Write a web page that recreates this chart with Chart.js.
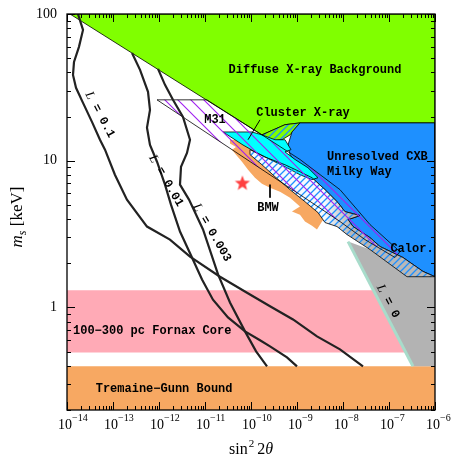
<!DOCTYPE html>
<html>
<head>
<meta charset="utf-8">
<script src="https://cdn.jsdelivr.net/npm/chart.js@4.4.1/dist/chart.umd.min.js"></script>
<style>
html, body { margin: 0; padding: 0; background: #fff; }
#chart { display: block; }
</style>
</head>
<body>
<canvas id="chart" width="452" height="456"></canvas>
<script>
// axis ranges
var xMin = 1e-14, xMax = 1e-6;
var yMin = 0.2, yMax = 100;
var xTickExps = [-14, -13, -12, -11, -10, -9, -8, -7, -6];
var yTickVals = [1, 10, 100];

// Diffuse X-ray background (green)
var dxbS = [1.16e-14, 1.73e-10, 5.48e-10, 1.16e-9, 1e-6, 1e-6];
var dxbM = [100, 15.0, 17.6, 18.1, 18.1, 100];

// cluster X-ray, hatched green piece
var clusterGreenS = [1.73e-10, 5.48e-10, 1.16e-9, 9.5e-10, 7.05e-10, 4.72e-10, 2.59e-10];
var clusterGreenM = [15.0, 17.6, 18.1, 16.8, 15.0, 13.9, 13.5];

// cluster X-ray, cyan piece
var clusterS = [2.46e-11, 1.05e-10, 1.73e-10, 3.32e-10, 5.48e-10, 7.41e-10, 5.48e-10, 9.05e-10, 1.73e-9, 2.86e-9, 2.12e-9, 1.16e-9, 5.48e-10, 2.59e-10, 1.22e-10, 6.70e-11, 4.49e-11];
var clusterM = [15.7, 15.7, 15.0, 13.9, 13.9, 11.9, 11.5, 10.2, 8.96, 7.66, 7.43, 8.03, 9.10, 10.2, 11.5, 12.8, 13.9];

// unresolved CXB (blue)
var cxbS = [1.16e-9, 1e-6, 1e-6, 5.48e-7, 2.01e-7, 6.37e-8, 3.87e-8, 1.65e-8, 1.29e-8, 2.34e-8, 1.10e-8, 7.78e-9, 4.06e-9, 2.12e-9, 1.16e-9, 7.05e-10, 6.37e-10, 7.78e-10];
var cxbM = [18.1, 18.1, 1.62, 1.76, 2.19, 2.60, 2.99, 3.56, 3.97, 4.23, 4.50, 5.18, 6.35, 7.66, 8.96, 11.0, 12.8, 15.7];

// Milky Way band (hatched)
var mwS = [9.52e-11, 2.01e-10, 5.48e-10, 1.16e-9, 2.12e-9, 4.06e-9, 7.78e-9, 1.10e-8, 2.34e-8, 1.29e-8, 1.65e-8, 3.87e-8, 6.37e-8, 2.01e-7, 5.48e-7, 1e-6,
           2.46e-7, 3.87e-8, 1.22e-8, 7.41e-9, 4.06e-9, 2.86e-9, 1.49e-9, 7.05e-10, 3.32e-10, 1.73e-10, 9.52e-11];
var mwM = [11.9, 10.6, 9.39, 8.41, 7.66, 6.35, 5.18, 4.50, 4.23, 3.97, 3.56, 2.99, 2.60, 2.19, 1.76, 1.62,
           1.62, 2.48, 3.14, 3.56, 3.79, 4.43, 5.26, 6.35, 7.78, 9.39, 11.0];

// BMW (orange)
var bmwS = [3.49e-11, 8.61e-11, 1.22e-10, 2.59e-10, 5.48e-10, 1.16e-9, 2.46e-9, 4.06e-9, 6.06e-9, 4.72e-9, 3.16e-9, 4.49e-9, 3.49e-9, 2.72e-9, 2.12e-9, 1.49e-9, 1.16e-9, 7.78e-10, 1.16e-9, 7.05e-10, 4.27e-10, 2.59e-10, 1.73e-10, 1.22e-10, 8.61e-11, 6.37e-11, 4.72e-11, 3.86e-11, 4.72e-11, 3.49e-11];
var bmwM = [13.9, 13.7, 12.6, 11.5, 10.2, 8.41, 6.87, 5.69, 4.87, 4.64, 4.50, 4.23, 3.85, 3.40, 3.61, 3.85, 4.29, 4.50, 4.87, 5.60, 6.15, 6.55, 6.98, 7.66, 8.68, 9.84, 11.0, 11.9, 12.4, 13.1];

// M31 (purple hatch)
var m31S = [9.05e-13, 1.10e-11, 1.73e-10, 1.16e-9, 8.60e-9, 3.87e-8, 1.73e-7, 1.35e-7, 3.01e-8, 8.60e-9, 1.16e-9, 3.86e-11];
var m31M = [26.0, 26.0, 15.0, 10.2, 6.35, 3.67, 2.40, 2.19, 2.90, 3.85, 5.87, 11.9];

// L = 0 region (grey) and its edge
var l0S = [1.29e-8, 3.87e-8, 2.46e-7, 1e-6, 1e-6, 3.32e-7];
var l0M = [2.81, 2.48, 1.62, 1.62, 0.397, 0.397];
var l0EdgeS = [1.29e-8, 3.32e-7];
var l0EdgeM = [2.81, 0.397];

// Fornax core and Tremaine-Gunn bands
var fornaxS = [1e-14, 1e-6, 1e-6, 1e-14];
var fornaxM = [1.31, 1.31, 0.494, 0.494];
var tgS = [1e-14, 1e-6, 1e-6, 1e-14];
var tgM = [0.397, 0.397, 0.2, 0.2];

// lepton asymmetry curves
var l01S = [1.73e-14, 2.23e-14, 1.82e-14, 1.42e-14, 1.35e-14, 1.57e-14, 2.23e-14, 3.49e-14, 5.21e-14, 6.70e-14, 1.10e-13, 2.01e-13, 5.48e-13, 1.73e-12, 4.72e-12, 2.12e-11, 8.19e-11, 2.59e-10, 8.19e-10, 2.72e-9, 8.60e-9, 2.72e-8];
var l01M = [100, 77.9, 59.7, 47.1, 38.4, 31.4, 24.8, 18.4, 13.9, 11.9, 8.03, 5.43, 3.56, 2.90, 2.22, 1.62, 1.26, 1.02, 0.828, 0.635, 0.518, 0.397];
var l001S = [2.59e-13, 3.87e-13, 5.77e-13, 6.37e-13, 5.48e-13, 6.37e-13, 9.05e-13, 1.35e-12, 1.82e-12, 2.86e-12, 5.21e-12, 8.61e-12, 1.49e-11, 3.16e-11, 7.41e-11, 1.57e-10, 2.59e-10, 6.06e-10, 1.0e-9];
var l001M = [54.3, 41.6, 29.5, 22.2, 16.8, 12.8, 9.84, 6.87, 5.02, 3.29, 2.19, 1.55, 1.13, 0.855, 0.687, 0.597, 0.543, 0.457, 0.397];
var l0003S = [9.52e-13, 1.35e-12, 2.01e-12, 3.32e-12, 4.72e-12, 4.06e-12, 3.01e-12, 2.86e-12, 4.49e-12, 9.05e-12, 1.92e-11, 3.49e-11, 7.41e-11, 1.29e-10, 2.23e-10];
var l0003M = [42.3, 32.9, 26.0, 19.9, 13.9, 11.3, 9.10, 6.87, 5.43, 3.40, 1.68, 1.08, 0.687, 0.502, 0.397];

// leader lines and the 3.5 keV line point
var clusterLeadS = [1.57e-10, 8.61e-11];
var clusterLeadM = [19.0, 13.9];
var bmwLeadS = [2.59e-10, 2.59e-10];
var bmwLeadM = [6.87, 5.60];
var starS = [6.5e-11];
var starM = [7.0];

var annotations = [
    { text: 'Diffuse X-ray Background', x: 2.46e-9, y: 41.6, align: 'center' },
    { text: 'Cluster X-ray', x: 1.35e-9, y: 21.2, align: 'center' },
    { text: 'M31', x: 1.65e-11, y: 19.0, align: 'center' },
    { text: 'Unresolved CXB', x: 4.49e-9, y: 10.6, align: 'left' },
    { text: 'Milky Way', x: 4.49e-9, y: 8.41, align: 'left' },
    { text: 'BMW', x: 2.34e-10, y: 4.79, align: 'center' },
    { text: 'Calor.', x: 3.16e-7, y: 2.52, align: 'center' },
    { text: '100\u2212300 pc Fornax Core', x: 1.35e-14, y: 0.687, align: 'left' },
    { text: 'Tremaine\u2212Gunn Bound', x: 1.29e-12, y: 0.277, align: 'center' }
];
var curveLabels = [
    { text: ' = 0.1', x: 5.21e-14, y: 20.6, rot: 62 },
    { text: ' = 0.01', x: 1.42e-12, y: 7.31, rot: 60 },
    { text: ' = 0.003', x: 1.42e-11, y: 3.24, rot: 60 },
    { text: ' = 0', x: 9.5e-8, y: 1.10, rot: 62 }
];

var canvas = document.getElementById('chart');
var mainCtx = canvas.getContext('2d');

function pts(xs, ys) {
    return xs.map(function (x, i) { return { x: x, y: ys[i] }; });
}

function hatch(color, size, dir, bg, lw) {
    var c = document.createElement('canvas');
    c.width = size; c.height = size;
    var g = c.getContext('2d');
    if (bg) { g.fillStyle = bg; g.fillRect(0, 0, size, size); }
    g.strokeStyle = color;
    g.lineWidth = lw || 1;
    g.beginPath();
    if (dir > 0) {
        g.moveTo(-1, size + 1); g.lineTo(size + 1, -1);
        g.moveTo(-1, 1); g.lineTo(1, -1);
        g.moveTo(size - 1, size + 1); g.lineTo(size + 1, size - 1);
    } else {
        g.moveTo(-1, -1); g.lineTo(size + 1, size + 1);
        g.moveTo(size - 1, -1); g.lineTo(size + 1, 1);
        g.moveTo(-1, size - 1); g.lineTo(1, size + 1);
    }
    g.stroke();
    return mainCtx.createPattern(c, 'repeat');
}

function starImage(r, color) {
    var c = document.createElement('canvas');
    c.width = c.height = 2 * r + 2;
    var g = c.getContext('2d');
    g.fillStyle = color;
    g.beginPath();
    for (var i = 0; i < 10; i++) {
        var rad = i % 2 ? r * 0.42 : r;
        var ang = -Math.PI / 2 + i * Math.PI / 5;
        g.lineTo(r + 1 + rad * Math.cos(ang), r + 1 + rad * Math.sin(ang));
    }
    g.closePath();
    g.fill();
    return c;
}

function area(xs, ys, fillStyle, border, order) {
    var data = pts(xs, ys);
    if (border) data.push(data[0]);
    return {
        data: data, showLine: true, fill: 'shape', backgroundColor: fillStyle,
        borderColor: border || 'rgba(0,0,0,0)', borderWidth: border ? 0.8 : 0,
        pointRadius: 0, tension: 0, order: order
    };
}

function curve(xs, ys, color, width, order) {
    return {
        data: pts(xs, ys), showLine: true, fill: false, borderColor: color,
        borderWidth: width, pointRadius: 0, tension: 0, order: order
    };
}

// band background: white on the left turning grey to the right
function bandBg(ctx) {
    var chart = ctx.chart;
    if (!chart.chartArea) return '#ffffff';
    var sx = chart.scales.x;
    var g = chart.ctx.createLinearGradient(sx.getPixelForValue(4e-9), 0, sx.getPixelForValue(1.5e-8), 0);
    g.addColorStop(0, '#f4faff');
    g.addColorStop(1, '#b8b8b8');
    return g;
}

var datasets = [
    area(fornaxS, fornaxM, '#ffaab6', null, 30),
    area(tgS, tgM, '#f7a862', null, 29),
    area(l0S, l0M, '#b3b3b3', null, 28),
    area(dxbS, dxbM, '#80ff00', '#000', 27),
    area(clusterGreenS, clusterGreenM, hatch('#1e90ff', 7, 1, '#80ff00', 1.3), '#000', 26),
    area(cxbS, cxbM, '#1e90ff', '#000', 25),
    area(bmwS, bmwM, '#f7a862', null, 24),
    area(mwS, mwM, bandBg, null, 23),
    area(clusterS, clusterM, '#00ffff', '#000', 22),
    area(mwS, mwM, hatch('#1e90ff', 7, 1, null, 1.3), '#000', 21),
    area(m31S, m31M, hatch('#a020f0', 13, -1, null, 1.1), '#000', 20),
    curve(l0EdgeS, l0EdgeM, '#a8dccb', 3, 19),
    curve(l01S, l01M, '#222', 2.2, 18),
    curve(l001S, l001M, '#222', 2.2, 18),
    curve(l0003S, l0003M, '#222', 2.2, 18),
    curve(clusterLeadS, clusterLeadM, '#000', 1, 17),
    curve(bmwLeadS, bmwLeadM, '#000', 1, 17),
    {
        data: pts(starS, starM), showLine: false, pointStyle: starImage(8, '#ff4040'),
        pointRadius: 8, order: 10
    }
];

// frame, inward ticks, tick labels and texts
var decorations = {
    id: 'decorations',
    afterDatasetsDraw: function (chart) {
        var ctx = chart.ctx, a = chart.chartArea;
        var sx = chart.scales.x, sy = chart.scales.y;
        ctx.save();

        // region texts
        ctx.fillStyle = '#000';
        ctx.font = 'bold 12px "Liberation Mono"';
        ctx.textBaseline = 'middle';
        annotations.forEach(function (t) {
            ctx.textAlign = t.align;
            ctx.fillText(t.text, sx.getPixelForValue(t.x), sy.getPixelForValue(t.y));
        });

        // curve labels
        curveLabels.forEach(function (t) {
            ctx.save();
            ctx.translate(sx.getPixelForValue(t.x), sy.getPixelForValue(t.y));
            ctx.rotate(t.rot * Math.PI / 180);
            ctx.font = 'italic 13px "Liberation Serif"';
            var w1 = ctx.measureText('L').width;
            ctx.font = 'bold 12px "Liberation Mono"';
            var w2 = ctx.measureText(t.text).width;
            var x0 = -(w1 + w2) / 2;
            ctx.textAlign = 'left';
            ctx.font = 'italic 13px "Liberation Serif"';
            ctx.fillText('L', x0, 0);
            ctx.font = 'bold 12px "Liberation Mono"';
            ctx.fillText(t.text, x0 + w1, 0);
            ctx.restore();
        });

        // frame
        ctx.strokeStyle = '#000';
        ctx.lineWidth = 1.3;
        ctx.strokeRect(a.left, a.top, a.right - a.left, a.bottom - a.top);

        // ticks
        ctx.lineWidth = 1;
        ctx.beginPath();
        var e, k, v, p, len;
        for (e = -14; e <= -6; e++) {
            for (k = 1; k <= 9; k++) {
                v = k * Math.pow(10, e);
                if (v > xMax * 1.001) break;
                p = Math.round(sx.getPixelForValue(v)) + 0.5;
                len = k === 1 ? 8 : 4;
                ctx.moveTo(p, a.bottom); ctx.lineTo(p, a.bottom - len);
                ctx.moveTo(p, a.top); ctx.lineTo(p, a.top + len);
            }
        }
        for (e = -1; e <= 2; e++) {
            for (k = 1; k <= 9; k++) {
                v = k * Math.pow(10, e);
                if (v < yMin * 0.999 || v > yMax * 1.001) continue;
                p = Math.round(sy.getPixelForValue(v)) + 0.5;
                len = k === 1 ? 8 : 4;
                ctx.moveTo(a.left, p); ctx.lineTo(a.left + len, p);
                ctx.moveTo(a.right, p); ctx.lineTo(a.right - len, p);
            }
        }
        ctx.stroke();
        ctx.restore();
    },
    afterDraw: function (chart) {
        var ctx = chart.ctx, a = chart.chartArea;
        var sx = chart.scales.x, sy = chart.scales.y;
        ctx.save();
        ctx.fillStyle = '#000';

        // x tick labels
        ctx.textBaseline = 'alphabetic';
        xTickExps.forEach(function (ex) {
            var p = sx.getPixelForValue(Math.pow(10, ex));
            ctx.font = '14px "Liberation Serif"';
            ctx.textAlign = 'right';
            ctx.fillText('10', p + 5, a.bottom + 19);
            ctx.font = '10px "Liberation Serif"';
            ctx.textAlign = 'left';
            ctx.fillText('\u2212' + Math.abs(ex), p + 5, a.bottom + 11);
        });

        // y tick labels
        ctx.font = '14px "Liberation Serif"';
        ctx.textAlign = 'right';
        ctx.textBaseline = 'middle';
        yTickVals.forEach(function (val) {
            ctx.fillText(String(val), a.left - 10, sy.getPixelForValue(val));
        });

        // x title: sin^2 2theta
        ctx.textBaseline = 'alphabetic';
        ctx.textAlign = 'left';
        var cx = (a.left + a.right) / 2, by = 454;
        ctx.font = '16px "Liberation Serif"';
        var w1 = ctx.measureText('sin').width;
        ctx.font = '11px "Liberation Serif"';
        var w2 = ctx.measureText('2').width;
        ctx.font = '16px "Liberation Serif"';
        var w3 = ctx.measureText(' 2').width;
        ctx.font = 'italic 16px "Liberation Serif"';
        var w4 = ctx.measureText('\u03b8').width;
        var x0 = cx - (w1 + w2 + w3 + w4) / 2;
        ctx.font = '16px "Liberation Serif"';
        ctx.fillText('sin', x0, by);
        ctx.font = '11px "Liberation Serif"';
        ctx.fillText('2', x0 + w1 + 1, by - 7);
        ctx.font = '16px "Liberation Serif"';
        ctx.fillText(' 2', x0 + w1 + w2, by);
        ctx.font = 'italic 16px "Liberation Serif"';
        ctx.fillText('\u03b8', x0 + w1 + w2 + w3, by);

        // y title: m_s [keV]
        ctx.translate(22, (a.top + a.bottom) / 2 + 5);
        ctx.rotate(-Math.PI / 2);
        ctx.font = 'italic 17px "Liberation Serif"';
        var m1 = ctx.measureText('m').width;
        ctx.font = 'italic 12px "Liberation Serif"';
        var m2 = ctx.measureText('s').width;
        ctx.font = '17px "Liberation Serif"';
        var m3 = ctx.measureText(' [keV]').width;
        var y0 = -(m1 + m2 + m3) / 2;
        ctx.font = 'italic 17px "Liberation Serif"';
        ctx.fillText('m', y0, 0);
        ctx.font = 'italic 12px "Liberation Serif"';
        ctx.fillText('s', y0 + m1, 4);
        ctx.font = '17px "Liberation Serif"';
        ctx.fillText(' [keV]', y0 + m1 + m2, 0);
        ctx.restore();
    }
};

var chart = new Chart(canvas, {
    type: 'scatter',
    data: { datasets: datasets },
    options: {
        responsive: false,
        devicePixelRatio: 1,
        animation: false,
        layout: { padding: { left: 67, right: 17, top: 14, bottom: 46 } },
        scales: {
            x: { type: 'logarithmic', min: xMin, max: xMax, display: false },
            y: { type: 'logarithmic', min: yMin, max: yMax, display: false }
        },
        plugins: {
            legend: { display: false },
            tooltip: { enabled: false }
        }
    },
    plugins: [decorations]
});
</script>
</body>
</html>
